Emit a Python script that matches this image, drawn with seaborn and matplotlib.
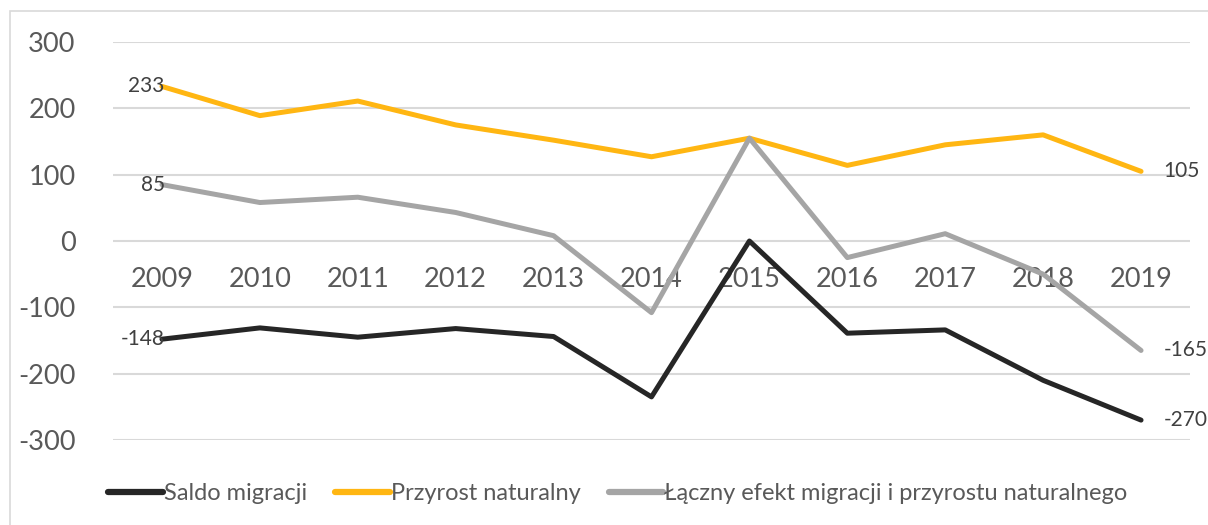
import numpy as np
import pandas as pd
import matplotlib
matplotlib.use('Agg')
import matplotlib.pyplot as plt
import seaborn as sns
from matplotlib.patches import Rectangle

years = ['2009', '2010', '2011', '2012', '2013', '2014', '2015', '2016', '2017', '2018', '2019']
saldo = [-148, -131, -145, -132, -144, -235, 0, -139, -134, -210, -270]
przyrost = [233, 189, 211, 175, 152, 127, 155, 114, 145, 160, 105]
laczny = [85, 58, 66, 43, 8, -108, 155, -25, 11, -50, -165]

names = ['Saldo migracji', 'Przyrost naturalny', 'Łączny efekt migracji i przyrostu naturalnego']
colors = ['#262626', '#FFB612', '#A5A5A5']

df = pd.DataFrame({'rok': years * 3,
                   'wartosc': saldo + przyrost + laczny,
                   'seria': [names[0]] * 11 + [names[1]] * 11 + [names[2]] * 11})
df['x'] = df['rok'].map({y: i for i, y in enumerate(years)})

sns.set_style('white')
plt.rcParams['font.family'] = ['Lato', 'DejaVu Sans']
plt.rcParams['axes.unicode_minus'] = False

fig = plt.figure(figsize=(12.08, 5.25), dpi=100)
ax = fig.add_axes([113 / 1208, 1 - 440 / 525, (1190 - 113) / 1208, 398 / 525])

sns.lineplot(data=df, x='x', y='wartosc', hue='seria', palette=colors,
             linewidth=3.6, ax=ax, legend=True)
for line in ax.lines:
    line.set_solid_capstyle('round')
    line.set_solid_joinstyle('round')

ax.set_xlim(-0.5, len(years) - 0.5)
ax.set_ylim(-300, 300)
ax.set_yticks([-300, -200, -100, 0, 100, 200, 300])
ax.set_xticks(range(len(years)))
ax.set_xticklabels(years)
ax.yaxis.grid(True, color='#D9D9D9', linewidth=1.5)
ax.set_axisbelow(True)
for s in ax.spines.values():
    s.set_visible(False)
ax.spines['bottom'].set_position(('data', 0))
ax.tick_params(axis='x', length=0, pad=19, labelsize=19.5, labelcolor='#595959')
ax.tick_params(axis='y', length=0, pad=27, labelsize=19.5, labelcolor='#595959')
ax.set_xlabel('')
ax.set_ylabel('')

# etykiety danych na początku i końcu serii
for vals in [przyrost, laczny, saldo]:
    ax.annotate(f'{vals[0]}', (0, vals[0]), xytext=(2, 0), textcoords='offset points',
                ha='right', va='center', fontsize=15, color='#404040')
    ax.annotate(f'{vals[-1]}', (len(years) - 1, vals[-1]), xytext=(16, 0),
                textcoords='offset points', ha='left', va='center', fontsize=15, color='#404040')

leg = ax.legend(loc='center', bbox_to_anchor=(618 / 1208, (525 - 494) / 525), bbox_transform=fig.transFigure,
                ncol=3, frameon=False, fontsize=17, handlelength=2.3, handletextpad=0.05,
                columnspacing=1.2)
for t in leg.get_texts():
    t.set_color('#595959')
for h in leg.get_lines():
    h.set_linewidth(4.5)

fig.patches.append(Rectangle((10 / 1208, -0.1), 1.2, 1 - 11 / 525 + 0.1, transform=fig.transFigure,
                             fill=False, edgecolor='#D9D9D9', linewidth=1.2))

fig.savefig('out.png', dpi=100)
